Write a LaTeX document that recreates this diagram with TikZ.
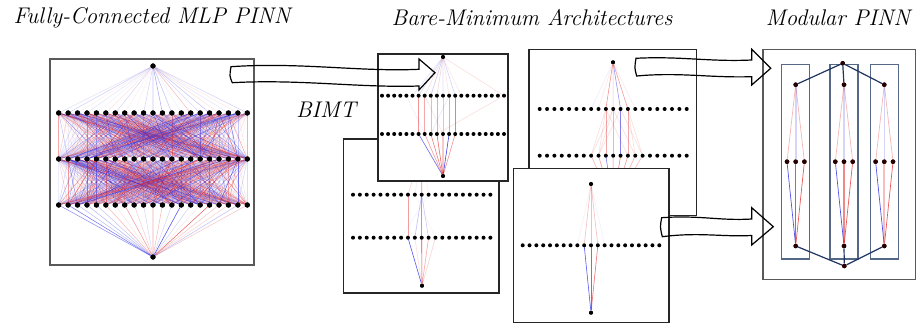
\documentclass[tikz,border=0pt]{standalone}
\usepackage{fontspec}
\definecolor{myred}{RGB}{228,40,40}
\definecolor{myblue}{RGB}{45,45,230}
\definecolor{navy}{RGB}{31,52,96}
\definecolor{modgray}{RGB}{85,105,135}
\newcommand\rndedge[4]{%
  \pgfmathtruncatemacro\rcol{rnd>0.5}%
  \pgfmathsetmacro\rop{#3+#4*rnd*rnd}%
  \ifnum\rcol=1 \def\rc{myred}\else\def\rc{myblue}\fi
  \draw[\rc, draw opacity=\rop, line width=0.4pt] (#1) -- (#2);}
\newcommand\nnedge[4]{\draw[#3, draw opacity=#4, line width=0.45pt] (#1) -- (#2);}
\begin{document}
\begin{tikzpicture}[x=0.75pt,y=-0.75pt,
  panel/.style={draw=black!85, line width=0.9pt, fill=white},
  gpanel/.style={draw=black!65, line width=1pt, fill=white},
  dotL/.style={circle, fill=black, inner sep=0pt, minimum size=3.9pt},
  dotS/.style={circle, fill=black, inner sep=0pt, minimum size=3pt},
  dotR/.style={circle, fill=black!85!red, inner sep=0pt, minimum size=3.4pt},
  title/.style={font=\fontsize{17}{20}\selectfont\itshape, inner sep=0pt},
  bigarrow/.style={draw=black, line width=0.9pt, line join=miter},
  navyline/.style={draw=navy, line width=0.9pt},
  modbox/.style={draw=modgray, line width=1pt}]
\useasboundingbox (0,0) rectangle (918,324);

% ---------------- titles ----------------
\node[title] (t1) at (152,18) {Fully-Connected MLP PINN};
\node[title] (t2) at (532,18) {Bare-Minimum Architectures};
\node[title] (t3) at (838,18) {Modular PINN};
\node[title] (bimt) at (326,110) {BIMT};

% ---------------- left panel: full MLP ----------------
\draw[gpanel] (50,59) rectangle (254,265);
\node[dotL] (L0) at (153,66) {};
\node[dotL] (L4) at (153,257) {};
\foreach \i in {0,...,20}{
  \node[dotL] (L1-\i) at ({58.7+9.43*\i},113) {};
  \node[dotL] (L2-\i) at ({58.7+9.43*\i},159) {};
  \node[dotL] (L3-\i) at ({58.7+9.43*\i},205) {};
}
\pgfmathsetseed{4242}
\foreach \i in {0,...,20}{ \rndedge{L0}{L1-\i}{0.06}{0.5} }
\foreach \i in {0,...,20}{\foreach \j in {0,...,20}{ \rndedge{L1-\i}{L2-\j}{0.06}{0.7} }}
\foreach \i in {0,...,20}{\foreach \j in {0,...,20}{ \rndedge{L2-\i}{L3-\j}{0.06}{0.7} }}
\foreach \i in {0,...,20}{ \rndedge{L3-\i}{L4}{0.1}{0.85} }
\foreach \i in {0,...,20}{
  \node[dotL] at (L1-\i) {};
  \node[dotL] at (L2-\i) {};
  \node[dotL] at (L3-\i) {};
}
\node[dotL] at (L0) {};
\node[dotL] at (L4) {};

% ---------------- panel B (bottom-left, partly hidden) ----------------
\draw[panel] (343.7,139) rectangle (499,293);
\coordinate (Bt) at (422,150);
\foreach \i in {0,...,20}{
  \coordinate (B1-\i) at ({353+6.87*\i},194.7);
  \coordinate (B2-\i) at ({353+6.87*\i},237.7);
}
\node[dotS] (Bb) at (422,285.7) {};
\nnedge{Bt}{B1-10}{myred}{0.55}
\nnedge{Bt}{B1-8}{myred}{0.2}
\nnedge{Bt}{B1-9}{myblue}{0.08}
\nnedge{Bt}{B1-11}{myred}{0.08}
\nnedge{B1-8}{B2-8}{myred}{0.45}
\nnedge{B1-10}{B2-10}{myred}{0.55}
\nnedge{B1-10}{B2-9}{myblue}{0.3}
\nnedge{B1-10}{B2-11}{myblue}{0.25}
\nnedge{B1-9}{B2-12}{myred}{0.06}
\nnedge{B1-11}{B2-7}{myblue}{0.06}
\nnedge{B2-8}{Bb}{myblue}{0.8}
\nnedge{B2-10}{Bb}{myred}{0.85}
\nnedge{B2-11}{Bb}{myred}{0.4}
\nnedge{B2-12}{Bb}{myred}{0.2}
\nnedge{B2-9}{Bb}{myred}{0.15}
\foreach \i in {0,...,20}{
  \node[dotS] at (B1-\i) {};
  \node[dotS] at (B2-\i) {};
}
\node[dotS] at (Bb) {};

% ---------------- panel A (BIMT result) ----------------
\draw[panel] (378,54) rectangle (508,181);
\node[dotS] (At) at (443,57) {};
\node[dotS] (Ab) at (443,176) {};
\foreach \i in {0,...,20}{
  \coordinate (A1-\i) at ({382+6.1*\i},95.7);
  \coordinate (A2-\i) at ({382+6.1*\i},134);
}
\foreach \i/\c/\o in {5/myblue/0.12,6/myblue/0.2,7/myred/0.15,8/myblue/0.25,9/myred/0.2,10/myblue/0.15,11/myred/0.12,12/myblue/0.2,13/myred/0.1,20/myred/0.15}{
  \nnedge{At}{A1-\i}{\c}{\o}
}
\foreach \i/\c/\o in {6/myred/0.5,7/myred/0.4,8/myred/0.35,9/myblue/0.35,10/myred/0.3,11/myblue/0.35,12/myblue/0.5}{
  \nnedge{A1-\i}{A2-\i}{\c}{\o}
}
\nnedge{A1-20}{A2-9}{myred}{0.15}
\nnedge{A1-7}{A2-10}{myred}{0.12}
\nnedge{A1-11}{A2-8}{myblue}{0.12}
\nnedge{A1-4}{A2-7}{myblue}{0.08}
\foreach \i/\c/\o in {6/myblue/0.7,7/myred/0.45,8/myred/0.6,9/myred/0.7,10/myred/0.7,11/myblue/0.9,12/myred/0.5}{
  \nnedge{A2-\i}{Ab}{\c}{\o}
}
\foreach \i in {0,...,20}{
  \node[dotS] at (A1-\i) {};
  \node[dotS] at (A2-\i) {};
}
\node[dotS] at (At) {};
\node[dotS] at (Ab) {};

% ---------------- panel C (top-right, partly hidden) ----------------
\draw[panel] (529,49.3) rectangle (696.7,215.7);
\node[dotS] (Ct) at (613,62.3) {};
\coordinate (Cb) at (613,205);
\foreach \i in {0,...,20}{
  \coordinate (C1-\i) at ({539.7+7.35*\i},109);
  \coordinate (C2-\i) at ({539.7+7.35*\i},155.7);
}
\foreach \i/\c/\o in {9/myred/0.5,10/myred/0.3,11/myblue/0.5,12/myred/0.45,8/myred/0.1,7/myblue/0.08,13/myred/0.1}{
  \nnedge{Ct}{C1-\i}{\c}{\o}
}
\foreach \i/\c/\o in {9/myred/0.4,10/myred/0.35,11/myblue/0.6,12/myred/0.4}{
  \nnedge{C1-\i}{C2-\i}{\c}{\o}
}
\foreach \a/\b in {9/7,9/8,10/8,10/13,11/14,12/13,12/14,10/7,11/8,9/12}{
  \nnedge{C1-\a}{C2-\b}{myred}{0.15}
}
\foreach \i/\c/\o in {7/myred/0.35,8/myred/0.45,9/myblue/0.6,10/myred/0.55,11/myred/0.6,12/myred/0.45,13/myred/0.35,14/myred/0.3}{
  \nnedge{C2-\i}{Cb}{\c}{\o}
}
\foreach \i in {0,...,20}{
  \node[dotS] at (C1-\i) {};
  \node[dotS] at (C2-\i) {};
}
\node[dotS] at (Ct) {};

% ---------------- panel D (bottom-right) ----------------
\draw[panel] (513.3,168.3) rectangle (669,322.7);
\node[dotS] (Dt) at (591,184) {};
\node[dotS] (Db) at (591,312.7) {};
\foreach \i in {0,...,20}{
  \coordinate (D1-\i) at ({522.7+6.83*\i},245.3);
}
\nnedge{Dt}{D1-9}{myred}{0.3}
\nnedge{Dt}{D1-10}{myblue}{0.25}
\nnedge{Dt}{D1-11}{myred}{0.3}
\nnedge{Dt}{D1-8}{myred}{0.07}
\nnedge{Dt}{D1-12}{myblue}{0.07}
\nnedge{D1-9}{Db}{myblue}{0.8}
\nnedge{D1-10}{Db}{myred}{0.8}
\nnedge{D1-11}{Db}{myred}{0.65}
\foreach \i in {0,...,20}{
  \node[dotS] at (D1-\i) {};
}
\node[dotS] at (Dt) {};
\node[dotS] at (Db) {};

% ---------------- right panel: modular PINN ----------------
\draw[gpanel] (763,49.5) rectangle (915.7,279.3);
\node[dotR] (Gt) at (842.7,63.3) {};
\node[dotR] (Gb) at (844.3,266) {};
\foreach \m/\cx in {1/795.7,2/844,3/884.3}{
  \draw[modbox] ({\cx-14},64.3) rectangle ({\cx+14},259);
  \node[dotR] (M\m t) at (\cx,84.7) {};
  \node[dotR] (M\m l) at ({\cx-8.7},161.7) {};
  \node[dotR] (M\m c) at (\cx,161.7) {};
  \node[dotR] (M\m r) at ({\cx+8.7},161.7) {};
  \node[dotR] (M\m b) at (\cx,246) {};
  \draw[myred, draw opacity=0.35, line width=0.5pt] (M\m t) -- (M\m l);
  \draw[myred, draw opacity=0.35, line width=0.5pt] (M\m t) -- (M\m r);
  \draw[myblue, draw opacity=0.2, line width=1.2pt] (M\m t) -- (M\m c);
  \draw[myblue, draw opacity=0.85, line width=0.5pt] (M\m l) -- (M\m b);
  \draw[myred, draw opacity=0.8, line width=0.5pt] (M\m r) -- (M\m b);
}
\draw[myred, draw opacity=0.8, line width=0.6pt] (M1c) -- (M1b);
\draw[myred, draw opacity=0.55, line width=1pt] (M2c) -- (M2b);
\draw[myred, draw opacity=0.3, line width=1.4pt] (M3c) -- (M3b);
\draw[navyline] (Gt) -- (M1t);
\draw[navyline] (Gt) -- (M2t);
\draw[navyline] (Gt) -- (M3t);
\draw[navyline] (M1b) -- (Gb);
\draw[navyline] (M2b) -- (Gb);
\draw[navyline] (M3b) -- (Gb);
\foreach \m in {1,2,3}{
  \foreach \p in {t,l,c,r,b}{ \node[dotR] at (M\m\p) {}; }
}
\node[dotR] at (Gt) {};
\node[dotR] at (Gb) {};

% ---------------- big hollow arrows ----------------
\draw[bigarrow] (231,66.7) .. controls (300,62) and (360,72) .. (419,69.3)
  -- (419,59) -- (435,72.7) -- (419,90) -- (419,86)
  .. controls (360,88) and (300,79) .. (232.3,82.7)
  .. controls (229.5,76) .. cycle;
\draw[bigarrow] (636,58.3) .. controls (680,56) and (710,62) .. (751.7,60)
  -- (751.7,49.3) -- (770.7,68.3) -- (751.7,85) -- (751.7,76.7)
  .. controls (710,78) and (680,72) .. (636.7,76)
  .. controls (634.5,68) .. cycle;
\draw[bigarrow] (661.7,217.7) .. controls (700,215) and (720,221) .. (751.7,219)
  -- (751.7,207.7) -- (773.3,226.7) -- (751.7,245) -- (751.7,235.5)
  .. controls (720,237) and (700,232) .. (662.3,236.7)
  .. controls (660,227) .. cycle;
\end{tikzpicture}
\end{document}
